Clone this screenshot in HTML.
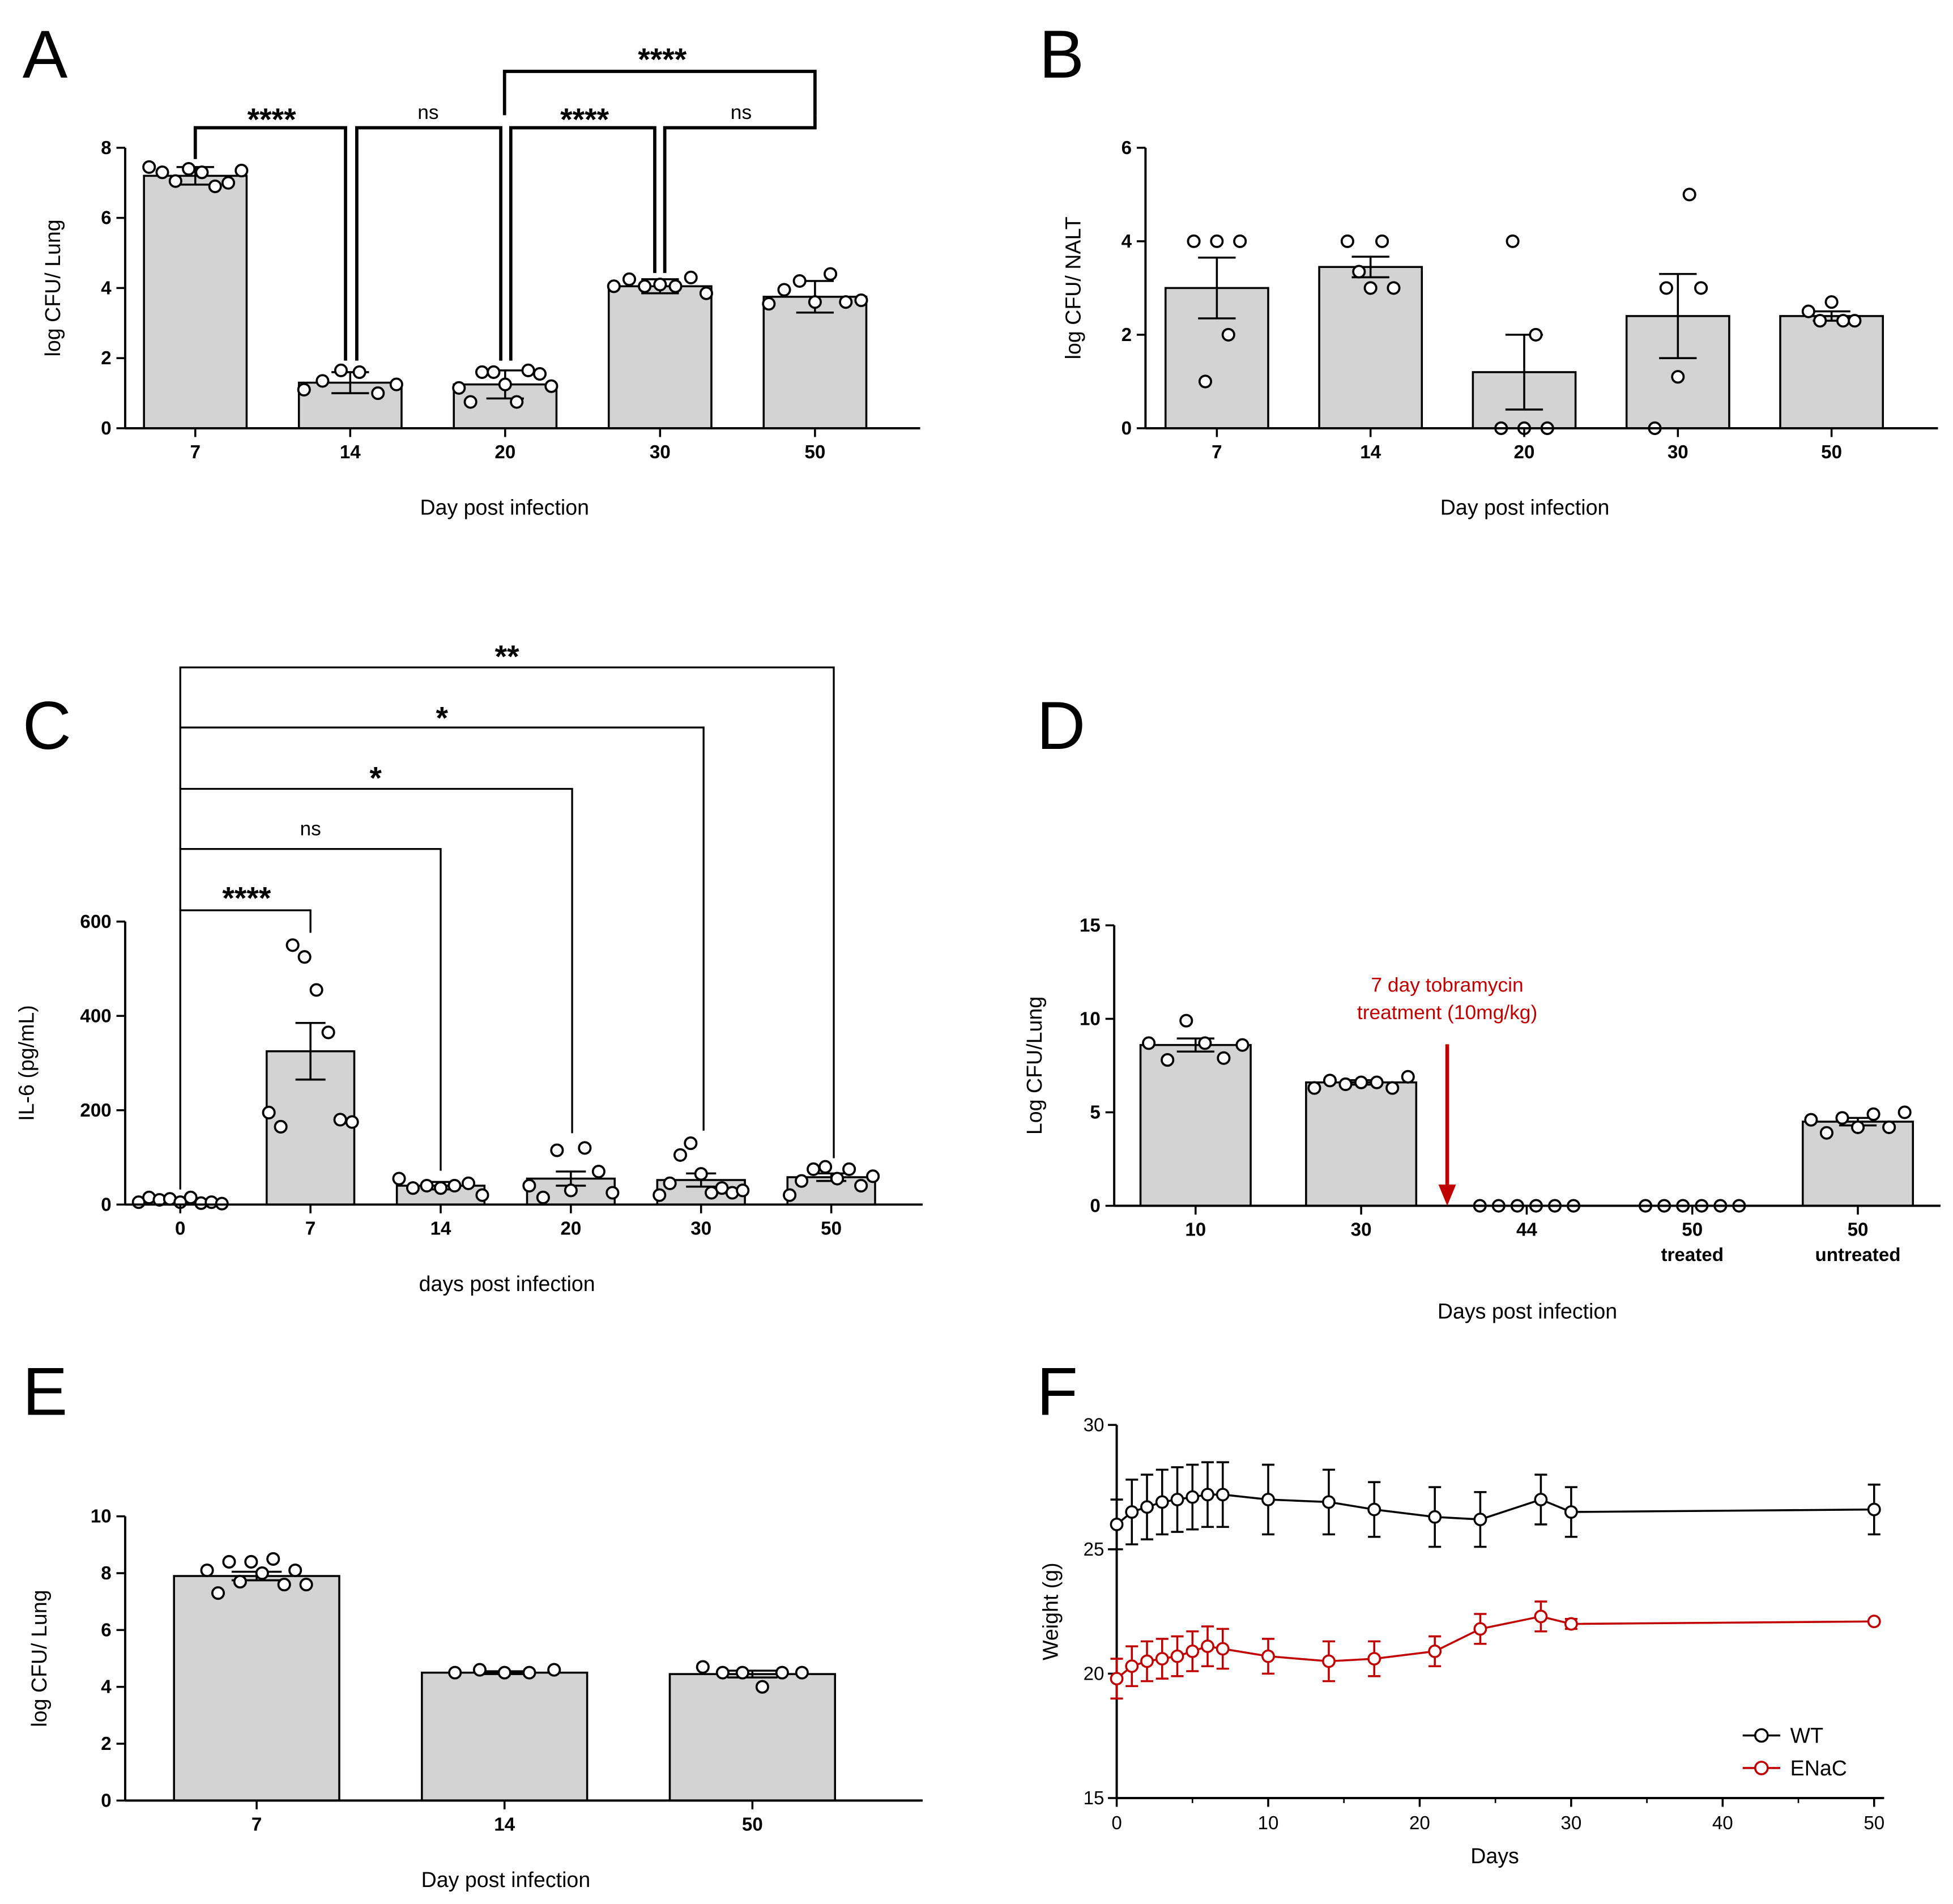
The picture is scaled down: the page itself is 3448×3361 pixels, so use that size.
<!DOCTYPE html>
<html><head><meta charset="utf-8"><style>
html,body{margin:0;padding:0;background:#fff}
svg{display:block;font-family:"Liberation Sans",Arial,sans-serif}
</style></head><body>
<svg id="fig" width="3448" height="3361" viewBox="0 0 1560 1520.6" xmlns="http://www.w3.org/2000/svg">
<g id="root"></g>
</svg>
<script>
// ---------- Panel A data ----------
const aCats=["7","14","20","30","50"];
const aMeans=[7.2,1.3,1.25,4.05,3.75];
const aErr=[0.25,0.3,0.4,0.2,0.45];
const aPts=[[7.45,7.3,7.05,7.4,7.3,6.9,7.0,7.35],[1.1,1.35,1.65,1.6,1.0,1.25],[1.15,0.75,1.6,1.6,1.25,0.75,1.65,1.55,1.2],[4.05,4.25,4.05,4.1,4.05,4.3,3.85],[3.55,3.95,4.2,3.6,4.4,3.6,3.65]];
const aTicks=[0,2,4,6,8];
// ---------- Panel B data ----------
const bCats=["7","14","20","30","50"];
const bMeans=[3.0,3.45,1.2,2.4,2.4];
const bErr=[0.65,0.22,0.8,0.9,0.1];
const bPts=[[4,1,4,2,4],[4,3.35,3,4,3],[0,4,0,2,0],[0,3,1.1,5,3],[2.5,2.3,2.7,2.3,2.3]];
const bTicks=[0,2,4,6];
// ---------- Panel C data ----------
const cCats=["0","7","14","20","30","50"];
const cMeans=[8,325,40,55,52,58];
const cErr=[5,60,8,15,14,8];
const cPts=[[5,15,10,12,5,15,3,5,2],[195,165,550,525,455,365,180,175],[55,35,40,35,40,45,20],[40,15,115,30,120,70,25],[20,45,105,130,65,25,35,25,30],[20,50,75,80,55,75,40,60]];
const cTicks=[0,200,400,600];
// ---------- Panel D data ----------
const dCats=["10","30","44","50|treated","50|untreated"];
const dMeans=[8.6,6.6,0,0,4.5];
const dErr=[0.35,0.12,0,0,0.2];
const dPts=[[8.7,7.8,9.9,8.7,7.9,8.6],[6.3,6.7,6.5,6.6,6.6,6.3,6.9],[0,0,0,0,0,0],[0,0,0,0,0,0],[4.6,3.9,4.7,4.2,4.9,4.2,5.0]];
const dTicks=[0,5,10,15];
// ---------- Panel E data ----------
const eCats=["7","14","50"];
const eMeans=[7.9,4.5,4.45];
const eErr=[0.15,0.05,0.12];
const ePts=[[8.1,7.3,8.4,7.7,8.4,8.0,8.5,7.6,8.1,7.6],[4.5,4.6,4.5,4.5,4.6],[4.7,4.5,4.5,4.0,4.5,4.5]];
const eTicks=[0,2,4,6,8,10];
// ---------- Panel F data ----------
const fDays=[0,1,2,3,4,5,6,7,10,14,17,21,24,28,30,50];
const fWT=[26,26.5,26.7,26.9,27,27.1,27.2,27.2,27,26.9,26.6,26.3,26.2,27,26.5,26.6];
const fWTerr=[1,1.3,1.3,1.3,1.3,1.3,1.3,1.3,1.4,1.3,1.1,1.2,1.1,1,1,1];
const fEN=[19.8,20.3,20.5,20.6,20.7,20.9,21.1,21,20.7,20.5,20.6,20.9,21.8,22.3,22,22.1];
const fENerr=[0.8,0.8,0.8,0.8,0.8,0.8,0.8,0.8,0.7,0.8,0.7,0.6,0.6,0.6,0.2,0];
const fXTicks=[0,10,20,30,40,50];
const fYTicks=[15,20,25,30];

const NS="http://www.w3.org/2000/svg";
const root=document.getElementById('root');
function el(tag,attrs,parent,txt){const e=document.createElementNS(NS,tag);for(const k in attrs)e.setAttribute(k,attrs[k]);if(txt!==undefined)e.textContent=txt;(parent||root).appendChild(e);return e;}
function line(x1,y1,x2,y2,w,c,p){return el('line',{x1,y1,x2,y2,stroke:c||'#000','stroke-width':w||1.6},p);}

function barPanel(cfg,cats,means,errs,pts,ticks){
  const g=el('g',{});
  
  
  const ys=v=>cfg.y0-(v-ticks[0])/(ticks[ticks.length-1]-ticks[0])*(cfg.y0-cfg.y1);
  const xs=i=>cfg.xc0+i*cfg.step;
  cats.forEach((c,i)=>{
    const x=xs(i),yt=ys(means[i]);
    const r=el('rect',{x:x-cfg.bw/2,y:yt,width:cfg.bw,height:cfg.y0-yt,fill:'#d3d3d3',stroke:'#000','stroke-width':1.6},g);
    
    
    if(errs[i]>0){const ye=ys(means[i]+errs[i]);line(x,yt,x,ye,1.6,'#000',g);line(x-cfg.cap,ye,x+cfg.cap,ye,1.6,'#000',g);
      const yl=ys(means[i]-errs[i]);line(x,yt,x,yl,1.6,'#000',g);line(x-cfg.cap,yl,x+cfg.cap,yl,1.6,'#000',g);}
    const n=pts[i].length,sp=cfg.bw*(cfg.spread||0.8);
    pts[i].forEach((v,j)=>{
      const px=x-sp/2+(n>1?j*sp/(n-1):sp/2);
      const c2=el('circle',{cx:px,cy:ys(v),r:4.6,fill:'#fff',stroke:'#000','stroke-width':1.7},g);
      
      
    });
    const parts=c.split('|');
    parts.forEach((t,k)=>{const tl=el('text',{x:x,y:cfg.y0+24+k*20,'text-anchor':'middle','font-size':15,'font-weight':'bold'},g,t);
      });
  });
  line(cfg.x0,cfg.y0,cfg.x1,cfg.y0,1.8,'#000',g);
  line(cfg.x0,cfg.y0,cfg.x0,cfg.y1,1.8,'#000',g);
  cats.forEach((c,i)=>line(xs(i),cfg.y0,xs(i),cfg.y0+7,1.6,'#000',g));
  ticks.forEach(t=>{const y=ys(t);line(cfg.x0-7,y,cfg.x0,y,1.6,'#000',g);
    const tl=el('text',{x:cfg.x0-11,y:y+5,'text-anchor':'end','font-size':15,'font-weight':'bold'},g,t);
    });
  const xt=el('text',{x:cfg.xtX,y:cfg.xtY,'text-anchor':'middle','font-size':17},g,cfg.xtitle);
  
  const yt=el('text',{x:0,y:0,'text-anchor':'middle','font-size':17,transform:`translate(${cfg.ytX},${(cfg.y0+cfg.y1)/2}) rotate(-90)`},g,cfg.ytitle);
  
  const L=el('text',{x:cfg.lx,y:cfg.ly,'font-size':54},g,cfg.letter);
  
  return {g,xs,ys};
}

barPanel({name:'panel-a',letter:'A',lx:18,ly:62,x0:100,x1:735,y0:342,y1:118,xc0:156,step:123.75,bw:82,cap:15,spread:0.9,xtX:403,xtY:411,xtitle:'Day post infection',ytX:48,ytitle:'log CFU/ Lung'},aCats,aMeans,aErr,aPts,aTicks);
barPanel({name:'panel-b',letter:'B',lx:830,ly:62,x0:915,x1:1548,y0:342,y1:118,xc0:972,step:122.75,bw:82,cap:15,spread:0.45,xtX:1218,xtY:411,xtitle:'Day post infection',ytX:863,ytitle:'log CFU/ NALT'},bCats,bMeans,bErr,bPts,bTicks);
barPanel({name:'panel-c',letter:'C',lx:18,ly:598,x0:100,x1:737,y0:962,y1:736,xc0:144,step:104,bw:70,cap:12,spread:0.95,xtX:405,xtY:1031,xtitle:'days post infection',ytX:27,ytitle:'IL-6 (pg/mL)'},cCats,cMeans,cErr,cPts,cTicks);
barPanel({name:'panel-d',letter:'D',lx:828,ly:598,x0:890,x1:1550,y0:963,y1:739,xc0:955,step:132.25,bw:88,cap:15,spread:0.85,xtX:1220,xtY:1053,xtitle:'Days post infection',ytX:832,ytitle:'Log CFU/Lung'},dCats,dMeans,dErr,dPts,dTicks);
barPanel({name:'panel-e',letter:'E',lx:18,ly:1130,x0:100,x1:737,y0:1438,y1:1211,xc0:205,step:198,bw:132,cap:20,spread:0.6,xtX:404,xtY:1507,xtitle:'Day post infection',ytX:37,ytitle:'log CFU/ Lung'},eCats,eMeans,eErr,ePts,eTicks);

function txt(x,y,s,size,name,extra){const t=el('text',Object.assign({x,y,'text-anchor':'middle','font-size':size||17,'font-weight':'bold'},extra||{}),root,s);return t;}
function pl(pts,w){const p=el('polyline',{points:pts.map(q=>q.join(',')).join(' '),fill:'none',stroke:'#000','stroke-width':w,'stroke-linejoin':'miter'});}
pl([[156,127],[156,102],[276,102],[276,288]],2.6); txt(217,104,'****',25,'sig-label');
pl([[285,288],[285,102],[400,102],[400,288]],2.6); txt(342,95,'ns',16,'sig-label',{'font-weight':'normal'});
pl([[408,288],[408,102],[523,102],[523,218]],2.6); txt(467,104,'****',25,'sig-label');
pl([[531,218],[531,102],[651,102],[651,92]],2.6); txt(592,95,'ns',16,'sig-label',{'font-weight':'normal'});
pl([[403,92],[403,57],[651,57],[651,92]],2.6); txt(529,56,'****',25,'sig-label');
pl([[144,950],[144,727],[248,727],[248,745]],1.5); txt(197,726,'****',25,'sig-label');
pl([[144,727],[144,678],[352,678],[352,935]],1.5); txt(248,667,'ns',16,'sig-label',{'font-weight':'normal'});
pl([[144,678],[144,630],[457,630],[457,905]],1.5); txt(300,630,'*',25,'sig-label');
pl([[144,630],[144,581],[562,581],[562,903]],1.5); txt(353,582,'*',25,'sig-label');
pl([[144,581],[144,533],[666,533],[666,925]],1.5); txt(405,533,'**',25,'sig-label');

txt(1156,792,'7 day tobramycin',16,'annotation',{fill:'#c00000','font-weight':'normal'});
txt(1156,814,'treatment (10mg/kg)',16,'annotation',{fill:'#c00000','font-weight':'normal'});
const ar=el('line',{x1:1156,y1:834,x2:1156,y2:948,stroke:'#c00000','stroke-width':3});
const ah=el('polygon',{points:'1149,946 1163,946 1156,963',fill:'#c00000'});

(function(){
  const g=el('g',{});
  const x0=892,x1=1497,y0=1436,y1=1138;
  const xs=v=>x0+(v-fXTicks[0])/(fXTicks[fXTicks.length-1]-fXTicks[0])*(x1-x0);
  const ys=v=>y0-(v-fYTicks[0])/(fYTicks[fYTicks.length-1]-fYTicks[0])*(y0-y1);
  line(x0,y0,1505,y0,1.8,'#000',g);line(x0,y0,x0,y1,1.8,'#000',g);
  fXTicks.forEach(t=>{line(xs(t),y0,xs(t),y0+7,1.6,'#000',g);const l=el('text',{x:xs(t),y:y0+25,'text-anchor':'middle','font-size':15},g,t);});
  fYTicks.forEach(t=>{line(x0-7,ys(t),x0,ys(t),1.6,'#000',g);const l=el('text',{x:x0-10,y:ys(t)+5,'text-anchor':'end','font-size':15},g,t);});
  for(let t=fXTicks[0];t<=fXTicks[fXTicks.length-1];t+=5) line(xs(t),y0,xs(t),y0+4,1.2,'#000',g);
  const series=[[fWT,fWTerr,'#000','WT'],[fEN,fENerr,'#c00000','ENaC']];
  series.forEach(([vals,errs,col,nm])=>{
    const sg=el('g',{},g);
    const p=el('polyline',{points:fDays.map((d,i)=>xs(d)+','+ys(vals[i])).join(' '),fill:'none',stroke:col,'stroke-width':1.6},sg);
    
    fDays.forEach((d,i)=>{const x=xs(d);if(errs[i]>0){const a=ys(vals[i]+errs[i]),b=ys(vals[i]-errs[i]);line(x,a,x,b,1.6,col,sg);line(x-5,a,x+5,a,1.6,col,sg);line(x-5,b,x+5,b,1.6,col,sg);}
      const c=el('circle',{cx:x,cy:ys(vals[i]),r:4.6,fill:'#fff',stroke:col,'stroke-width':1.6},sg);});
  });
  const xt=el('text',{x:1194,y:1488,'text-anchor':'middle','font-size':17},g,'Days');
  const yt=el('text',{x:0,y:0,'text-anchor':'middle','font-size':17,transform:`translate(845,1287) rotate(-90)`},g,'Weight (g)');
  const L=el('text',{x:828,y:1130,'font-size':54},g,'F');
  [['WT','#000',1386],['ENaC','#c00000',1412]].forEach(([nm,col,y])=>{
    const lg=el('g',{},g);
    line(1392,y,1422,y,1.6,col,lg);el('circle',{cx:1407,cy:y,r:5,fill:'#fff',stroke:col,'stroke-width':1.6},lg);
    el('text',{x:1430,y:y+6,'font-size':17},lg,nm);
  });
})();
</script>
</body></html>
